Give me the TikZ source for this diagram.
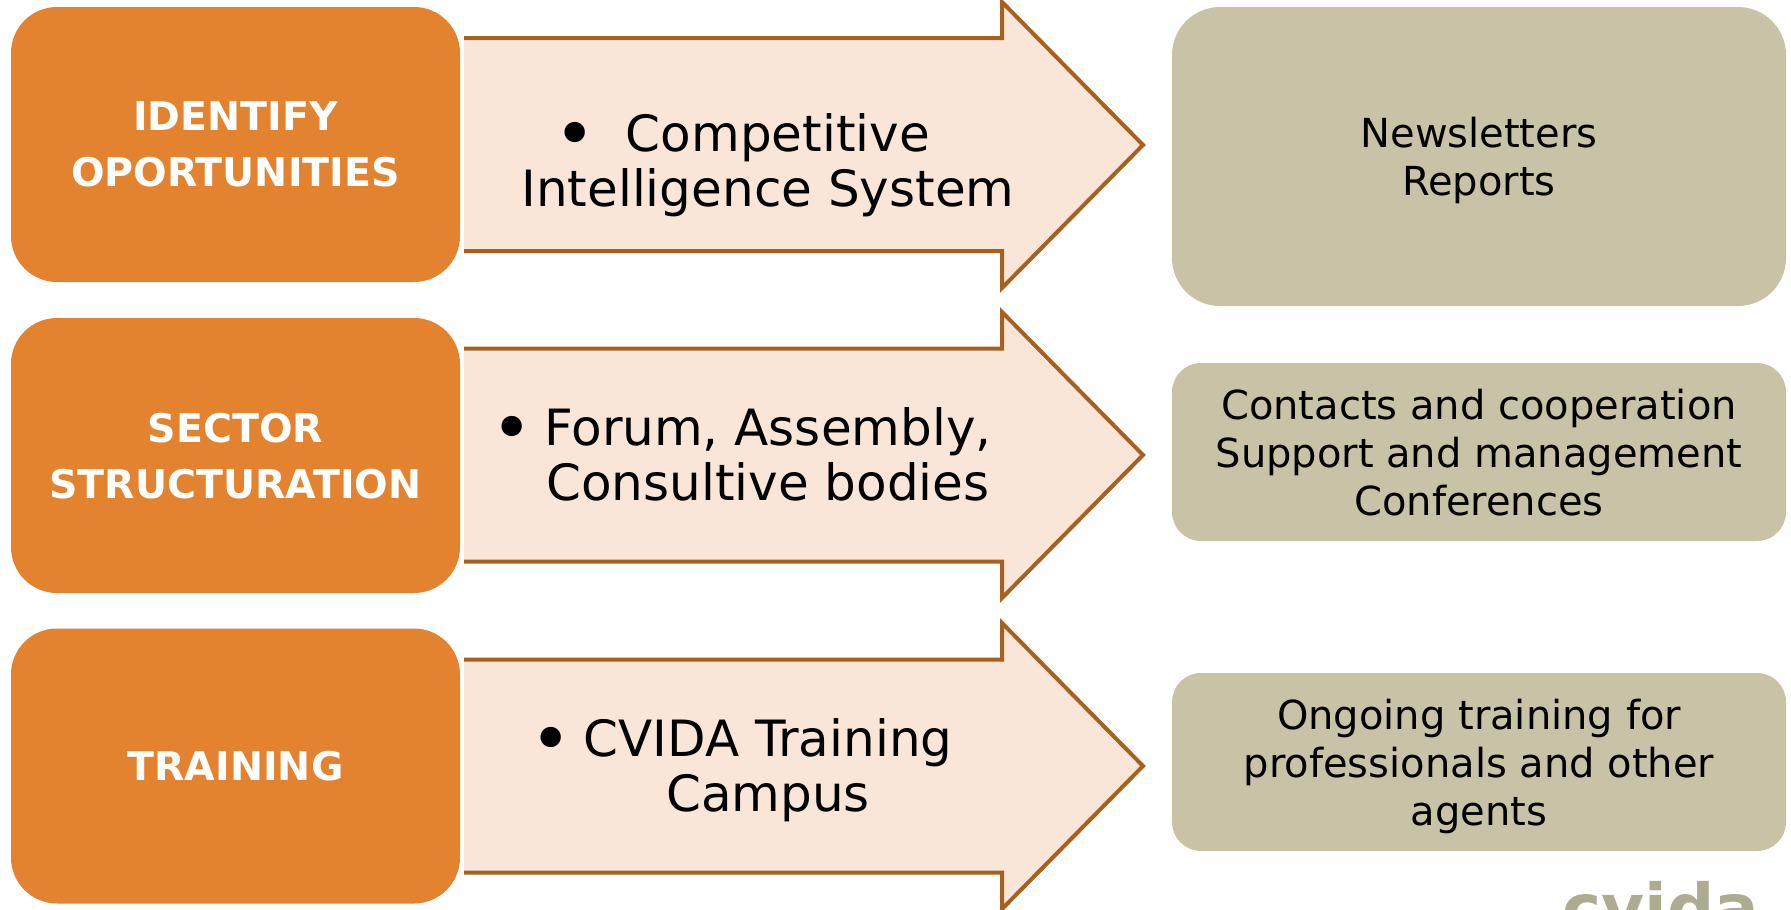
\documentclass[tikz,border=0pt]{standalone}
\usepackage{fontspec}
\setmainfont{DejaVu Sans}
\definecolor{orangebox}{HTML}{E3822F}
\definecolor{arrowfill}{HTML}{F9E6D9}
\definecolor{arrowline}{HTML}{A8601F}
\definecolor{graybox}{HTML}{C8C3A6}
\definecolor{logocol}{HTML}{ADAB90}
\newcommand{\bigbul}{\raisebox{-7pt}{\fontsize{70}{55}\selectfont •}}
\begin{document}
\begin{tikzpicture}[x=1pt,y=-1pt,
  leftbox/.style={fill=orangebox, rounded corners=46pt, minimum width=449pt, minimum height=275pt,
    text=white, font=\bfseries\fontsize{39.5}{56}\selectfont, align=center, text depth=0pt, inner sep=0pt},
  rightbox/.style={fill=graybox, minimum width=614pt, align=center,
    font=\fontsize{40}{48}\selectfont, text depth=0pt, inner sep=0pt},
  arrowbody/.style={fill=arrowfill},
  arrowedge/.style={draw=arrowline, line width=4pt, line join=miter},
  arrowtext/.style={font=\fontsize{50}{55}\selectfont, align=center, text depth=0pt, inner sep=0pt},
  logo/.style={font=\bfseries\fontsize{66}{70}\selectfont, text=logocol, inner sep=0pt}]
\useasboundingbox (0,0) rectangle (1791,910);
\fill[white] (0,0) rectangle (1791,910);

% arrows
\fill[arrowbody] (464,38) -- (1002,38) -- (1002,2) -- (1143,145) -- (1002,288) -- (1002,251) -- (464,251) -- cycle;
\draw[arrowedge] (464,38) -- (1002,38) -- (1002,2) -- (1143,145) -- (1002,288) -- (1002,251) -- (464,251);
\fill[arrowbody] (464,348.5) -- (1002,348.5) -- (1002,312) -- (1143,455) -- (1002,598) -- (1002,561.5) -- (464,561.5) -- cycle;
\draw[arrowedge] (464,348.5) -- (1002,348.5) -- (1002,312) -- (1143,455) -- (1002,598) -- (1002,561.5) -- (464,561.5);
\fill[arrowbody] (464,659.5) -- (1002,659.5) -- (1002,623) -- (1143,766) -- (1002,909) -- (1002,872.5) -- (464,872.5) -- cycle;
\draw[arrowedge] (464,659.5) -- (1002,659.5) -- (1002,623) -- (1143,766) -- (1002,909) -- (1002,872.5) -- (464,872.5);

\node[arrowtext] (a1) at (768,160.5) {\hspace*{20pt}\llap{\bigbul\hspace{30pt}}Competitive\\Intelligence System};
\node[arrowtext] (a2) at (768,454) {\llap{\bigbul\hspace{12pt}}Forum, Assembly,\\Consultive bodies};
\node[arrowtext] (a3) at (768,764.5) {\llap{\bigbul\hspace{12pt}}CVIDA Training\\Campus};

% left boxes
\node[leftbox] (l1) at (235.5,144.5) {IDENTIFY\\OPORTUNITIES};
\node[leftbox] (l2) at (235.5,455.5) {SECTOR\\STRUCTURATION};
\node[leftbox] (l3) at (235.5,766) {TRAINING};

% right boxes
\node[rightbox, rounded corners=48pt, minimum height=299pt] (r1) at (1479,156.5) {Newsletters\\Reports};
\node[rightbox, rounded corners=29pt, minimum height=178pt] (r2) at (1479,452) {Contacts and cooperation\\Support and management\\Conferences};
\node[rightbox, rounded corners=29pt, minimum height=178pt] (r3) at (1479,762) {Ongoing training for\\professionals and other\\agents};

% logo (cut off at bottom)
\begin{scope}
\clip (0,0) rectangle (1791,910);
\node[logo, anchor=base] (logo) at (1661,931) {cvida};
\end{scope}
\end{tikzpicture}
\end{document}
